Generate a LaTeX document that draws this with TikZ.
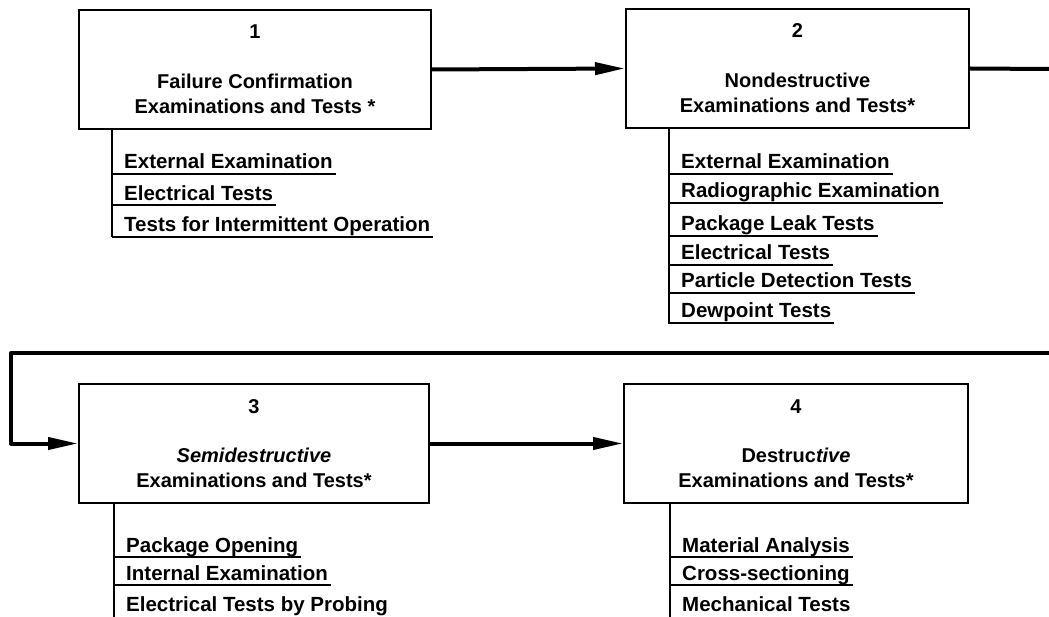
\documentclass[tikz,border=0pt]{standalone}
\usepackage{fontspec}
\setmainfont{Liberation Sans}
\usetikzlibrary{arrows.meta}
\newcommand\mkitem[4]{%
  \coordinate (#1u) at (#2,#3);
  \node[item] (#1) at (#2+9,#3-5) {#4};
  \draw[listline] (#1u) -- (#1u -| #1.east);}
\begin{document}
\begin{tikzpicture}[x=1pt,y=-1pt,
  box/.style={draw, line width=2pt, minimum height=119pt, inner sep=0pt},
  num/.style={font=\fontsize{20}{25}\selectfont\bfseries, inner sep=0pt},
  ttl/.style={font=\fontsize{20}{25}\selectfont\bfseries, align=center, inner sep=0pt},
  item/.style={font=\fontsize{20.5}{24}\selectfont\bfseries, anchor=base west, inner ysep=0pt, inner xsep=3pt},
  flow/.style={line width=4pt, line join=round},
  tip/.style={-{Triangle[length=30pt,width=12pt]}},
  listline/.style={line width=2pt}
]
\useasboundingbox (0,0) rectangle (1049,617);
% boxes
\node[box, minimum width=352pt] (b1) at (255,69.5) {};
\node[box, minimum width=343pt] (b2) at (797.5,68.5) {};
\node[box, minimum width=350pt] (b3) at (254,443.5) {};
\node[box, minimum width=344pt] (b4) at (796,443.5) {};
% texts in boxes
\node[num] (n1) at ([yshift=-23pt]b1.north) {1};
\node[ttl] (t1) at ([yshift=-85pt]b1.north) {Failure Confirmation\\Examinations and Tests *};
\node[num] (n2) at ([yshift=-23pt]b2.north) {2};
\node[ttl] (t2) at ([yshift=-85pt]b2.north) {Nondestructive\\Examinations and Tests*};
\node[num] (n3) at ([yshift=-24pt]b3.north) {3};
\node[ttl] (t3) at ([yshift=-85pt]b3.north) {\textit{Semidestructive}\\Examinations and Tests*};
\node[num] (n4) at ([yshift=-24pt]b4.north) {4};
\node[ttl] (t4) at ([yshift=-85pt]b4.north) {Destruc\textit{tive}\\Examinations and Tests*};
% connectors
\coordinate (r1) at (1049,69);
\coordinate (r2) at (1049,353);
\coordinate (l2) at (11,353);
\draw[flow,tip] (b1.east) -- (b2.west);
\draw[flow] (b2.east) -- (r1);
\draw[flow,tip] (r2) -- (l2) |- (b3.west);
\draw[flow,tip] (b3.east) -- (b4.west);
% list 1
\draw[listline] (112,129) -- (112,237);
\mkitem{a1}{112}{174}{External Examination}
\mkitem{a2}{112}{205.5}{Electrical Tests}
\mkitem{a3}{112}{237}{Tests for Intermittent Operation}
% list 2
\draw[listline] (669,127) -- (669,324);
\mkitem{c1}{669}{174}{External Examination}
\mkitem{c2}{669}{203}{Radiographic Examination}
\mkitem{c3}{669}{236}{Package Leak Tests}
\mkitem{c4}{669}{265}{Electrical Tests}
\mkitem{c5}{669}{293}{Particle Detection Tests}
\mkitem{c6}{669}{323}{Dewpoint Tests}
% list 3
\draw[listline] (114,503) -- (114,617);
\mkitem{d1}{114}{557}{Package Opening}
\mkitem{d2}{114}{585}{Internal Examination}
\node[item] (d3) at (123,611) {Electrical Tests by Probing};
% list 4
\draw[listline] (670,504) -- (670,617);
\mkitem{e1}{670}{557}{Material Analysis}
\mkitem{e2}{670}{585}{Cross-sectioning}
\node[item] (e3) at (679,611) {Mechanical Tests};
\end{tikzpicture}
\end{document}
